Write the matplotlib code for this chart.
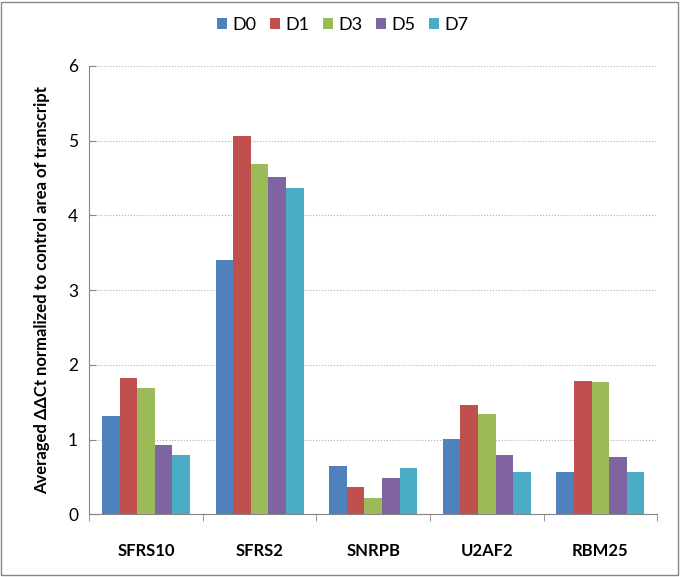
import numpy as np
import matplotlib.pyplot as plt
from matplotlib.patches import Rectangle

plt.rcParams['font.family'] = ['Lato', 'DejaVu Sans']

genes = ['SFRS10', 'SFRS2', 'SNRPB', 'U2AF2', 'RBM25']
days = ['D0', 'D1', 'D3', 'D5', 'D7']
d0 = [1.32, 3.40, 0.65, 1.01, 0.57]
d1 = [1.82, 5.06, 0.36, 1.46, 1.79]
d3 = [1.69, 4.69, 0.22, 1.34, 1.77]
d5 = [0.93, 4.52, 0.49, 0.79, 0.77]
d7 = [0.79, 4.36, 0.62, 0.57, 0.57]
series = [d0, d1, d3, d5, d7]
colors = ['#4F81BD', '#C0504D', '#9BBB59', '#8064A2', '#4BACC6']

fig = plt.figure(figsize=(6.81, 5.77), dpi=100)
ax = fig.add_axes([0.131, 0.1087, 0.834, 0.777])

x = np.arange(len(genes))
w = 0.155
for i, (vals, c, lab) in enumerate(zip(series, colors, days)):
    ax.bar(x + (i - 2) * w, vals, width=w, color=c, label=lab, zorder=3)

ax.set_xlim(-0.5, len(genes) - 0.5)
ax.set_ylim(0, 6)
ax.set_yticks(range(7))
ax.yaxis.grid(True, linestyle=':', color='#b0b0b0', linewidth=0.8, zorder=0)

ax.set_xticks(x)
ax.set_xticklabels(genes, fontsize=12, fontweight='bold')
ax.set_xticks(np.arange(-0.5, len(genes)), minor=True)
ax.tick_params(axis='x', which='major', length=0, pad=21)
ax.tick_params(axis='x', which='minor', length=5, color='#868686')
ax.tick_params(axis='y', length=5, color='#868686', labelsize=12.5, direction='in', pad=8)

for s in ['top', 'right']:
    ax.spines[s].set_visible(False)
for s in ['left', 'bottom']:
    ax.spines[s].set_color('#868686')

ax.set_ylabel('Averaged ΔΔCt normalized to control area of transcript',
              fontsize=12, fontweight='bold', labelpad=13)

# legend centred on the figure, not the axes
ax.legend(loc='upper center', bbox_to_anchor=(0.447, 1.145), ncol=5, frameon=False,
          fontsize=13, handlelength=0.55, handleheight=0.55, handletextpad=0.3,
          columnspacing=0.75)

fig.patches.append(Rectangle((0.002, 0.003), 0.993, 0.994, transform=fig.transFigure,
                             fill=False, edgecolor='#868686', linewidth=1))

fig.savefig('out.png', dpi=100)
